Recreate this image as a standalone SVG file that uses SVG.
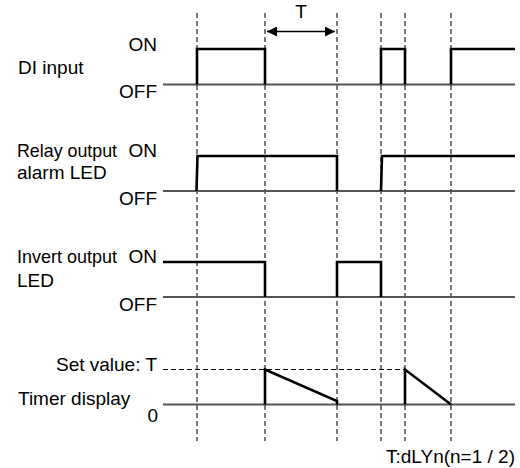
<svg xmlns="http://www.w3.org/2000/svg" width="520" height="468" viewBox="0 0 520 468">
<defs>
<style>
text{font-family:"Liberation Sans",Arial,sans-serif;font-size:19px;fill:#000}
.r{text-anchor:end}
.base{stroke:#555;stroke-width:1.8;fill:none}
.sig{stroke:#000;stroke-width:2.6;fill:none;stroke-linejoin:miter}
.grid{stroke:#222;stroke-width:1.2;stroke-dasharray:5 3;fill:none}
.set{stroke:#000;stroke-width:1.2;stroke-dasharray:5 3;fill:none}
.arr{stroke:#000;stroke-width:1.5;fill:none}
</style>
<marker id="ah" viewBox="0 0 10 10" refX="10" refY="5" markerWidth="10" markerHeight="10" markerUnits="userSpaceOnUse" orient="auto-start-reverse">
<path d="M0,0 L10,5 L0,10 Z" fill="#000"/>
</marker>
</defs>
<rect width="520" height="468" fill="#fff"/>
<g id="connectors">
<g id="grid">
<line class="grid" x1="197" y1="13" x2="197" y2="441"/>
<line class="grid" x1="265" y1="13" x2="265" y2="441"/>
<line class="grid" x1="337" y1="13" x2="337" y2="441"/>
<line class="grid" x1="381" y1="13" x2="381" y2="441"/>
<line class="grid" x1="405" y1="13" x2="405" y2="441"/>
<line class="grid" x1="451" y1="13" x2="451" y2="441"/>
</g>
<line id="period-arrow" class="arr" x1="267" y1="31.5" x2="335" y2="31.5" marker-start="url(#ah)" marker-end="url(#ah)"/>
</g>
<g id="period-label"><text x="301" y="18" text-anchor="middle">T</text></g>
<g id="di-input">
<text x="18" y="74">DI input</text>
<text class="r" x="157" y="51">ON</text>
<text class="r" x="157" y="98">OFF</text>
<line class="base" x1="163" y1="84.5" x2="515" y2="84.5"/>
<path class="sig" d="M197,84.5 V49 H265 V84.5 M381,84.5 V49 H405 V84.5 M451,84.5 V49 H515"/>
</g>
<g id="relay-output">
<text x="17" y="157" textLength="100" lengthAdjust="spacingAndGlyphs">Relay output</text>
<text x="17" y="179">alarm LED</text>
<text class="r" x="157" y="157">ON</text>
<text class="r" x="157" y="205">OFF</text>
<line class="base" x1="163" y1="191" x2="515" y2="191"/>
<path class="sig" d="M196.5,191 L197.5,156 H337 V191 M381,191 L382,156 H515"/>
</g>
<g id="invert-output">
<text x="17" y="263" textLength="100" lengthAdjust="spacingAndGlyphs">Invert output</text>
<text x="17" y="287">LED</text>
<text class="r" x="157" y="263">ON</text>
<text class="r" x="157" y="311">OFF</text>
<line class="base" x1="163" y1="297" x2="515" y2="297"/>
<path class="sig" d="M163,262 H265 V297 M337,297 V262 H381 V297"/>
</g>
<g id="timer-display">
<text class="r" x="157" y="371">Set value: T</text>
<text x="18" y="405">Timer display</text>
<text class="r" x="158" y="422">0</text>
<line class="set" x1="163" y1="369.5" x2="405" y2="369.5"/>
<line class="base" x1="163" y1="404.5" x2="515" y2="404.5"/>
<path class="sig" d="M265,404.5 V369.5 L337,401 V404.5 M405,404.5 V369.5 L451,404.5"/>
</g>
<g id="footnote"><text class="r" x="515" y="463">T:dLYn(n=1 / 2)</text></g>
</svg>
